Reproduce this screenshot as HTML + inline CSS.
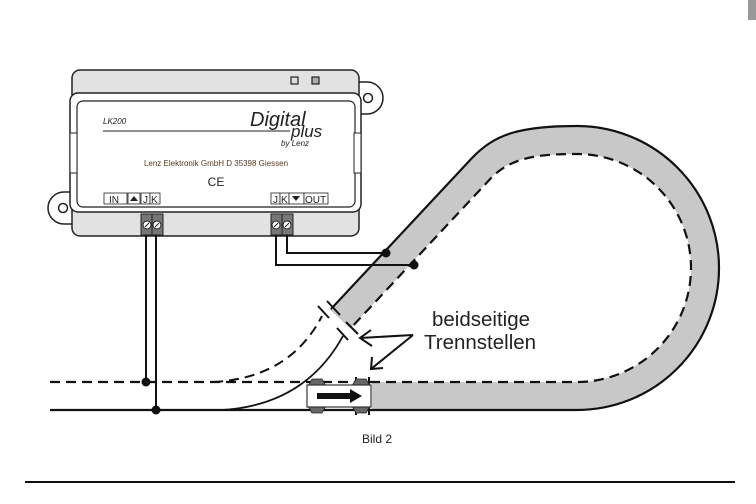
<!DOCTYPE html>
<html><head><meta charset="utf-8"><style>
html,body{margin:0;padding:0;background:#fff;}
svg{display:block;font-family:"Liberation Sans",sans-serif;}
</style></head><body>
<svg width="756" height="504" viewBox="0 0 756 504" xmlns="http://www.w3.org/2000/svg">
<rect x="748" y="0" width="8" height="20" fill="#999"/>
<!-- ears -->
<path d="M355 82 h12 a16 16 0 0 1 0 32 h-12 z" fill="#fff" stroke="#222" stroke-width="1.5"/>
<circle cx="368" cy="98" r="4.5" fill="#fff" stroke="#222" stroke-width="1.5"/>
<path d="M76 192 h-12 a16 16 0 0 0 0 32 h12 z" fill="#fff" stroke="#222" stroke-width="1.5"/>
<circle cx="63" cy="208" r="4.5" fill="#fff" stroke="#222" stroke-width="1.5"/>
<!-- box -->
<rect x="72" y="70" width="287" height="166" rx="8" fill="#e2e2e2" stroke="#222" stroke-width="1.5"/>
<rect x="70" y="93" width="291" height="119" rx="8" fill="#fff" stroke="#222" stroke-width="1.5"/>
<rect x="77" y="101" width="278" height="106" rx="6" fill="#fff" stroke="#222" stroke-width="1.2"/>
<rect x="70" y="133" width="7" height="40" fill="#fff" stroke="#222" stroke-width="1"/>
<rect x="354" y="133" width="7" height="40" fill="#fff" stroke="#222" stroke-width="1"/>
<rect x="291" y="77" width="7" height="7" fill="#ddd" stroke="#222" stroke-width="1.2"/>
<rect x="312" y="77" width="7" height="7" fill="#aaa" stroke="#222" stroke-width="1.2"/>
<text x="103" y="124" font-size="8" font-style="italic" fill="#222">LK200</text>
<line x1="103" y1="131" x2="290" y2="131" stroke="#222" stroke-width="1"/>
<text x="250" y="126" font-size="20" font-style="italic" fill="#222">Digital</text>
<text x="291" y="137" font-size="17" font-style="italic" fill="#222">plus</text>
<text x="281" y="146" font-size="8" font-style="italic" fill="#222">by Lenz</text>
<text x="216" y="166" font-size="8" text-anchor="middle" fill="#5a3a20">Lenz Elektronik GmbH  D 35398 Giessen</text>
<text x="216" y="186" font-size="12" text-anchor="middle" fill="#222">CE</text>
<g font-size="10" fill="#222" stroke-width="0.8">
<rect x="104" y="193" width="23" height="11" fill="#fff" stroke="#222"/><text x="109" y="203">IN</text>
<rect x="128" y="193" width="12" height="11" fill="#fff" stroke="#222"/><path d="M130 201 L134 196 L138 201 z" fill="#222"/>
<rect x="141" y="193" width="9" height="11" fill="#fff" stroke="#222"/><text x="143" y="203">J</text>
<rect x="150" y="193" width="10" height="11" fill="#fff" stroke="#222"/><text x="151" y="203">K</text>
<rect x="271" y="193" width="9" height="11" fill="#fff" stroke="#222"/><text x="273" y="203">J</text>
<rect x="280" y="193" width="9" height="11" fill="#fff" stroke="#222"/><text x="281" y="203">K</text>
<rect x="289" y="193" width="15" height="11" fill="#fff" stroke="#222"/><path d="M292 196 L296 201 L300 196 z" fill="#222"/>
<rect x="304" y="193" width="24" height="11" fill="#fff" stroke="#222"/><text x="305" y="203">OUT</text>
</g>
<!-- terminals -->
<g stroke="#222" stroke-width="1">
<rect x="141" y="214" width="22" height="21" fill="#777"/>
<line x1="152" y1="214" x2="152" y2="235"/>
<circle cx="147" cy="225" r="4" fill="#fff"/><circle cx="157" cy="225" r="4" fill="#fff"/>
<line x1="145" y1="227" x2="149" y2="223"/><line x1="155" y1="227" x2="159" y2="223"/>
<rect x="271" y="214" width="22" height="21" fill="#777"/>
<line x1="282" y1="214" x2="282" y2="235"/>
<circle cx="276" cy="225" r="4" fill="#fff"/><circle cx="287" cy="225" r="4" fill="#fff"/>
<line x1="274" y1="227" x2="278" y2="223"/><line x1="285" y1="227" x2="289" y2="223"/>
</g>
<!-- track loop band -->
<path d="M372 396 L577 396 A128 128 0 0 0 577 140 C528 140 503 146 482 167 L340 319" fill="none" stroke="#c8c8c8" stroke-width="28"/>
<path d="M50 410 L577 410 A142 142 0 0 0 577 126 C520 126 495 134 472 158 L331 309" fill="none" stroke="#111" stroke-width="2.2"/>
<path d="M50 382 L577 382 A114 114 0 0 0 577 154 C535 154 512 158 492 177 L350 329" fill="none" stroke="#111" stroke-width="2.2" stroke-dasharray="10,6"/>
<!-- turnout curves -->
<path d="M213 382 Q290 378 322 316" fill="none" stroke="#111" stroke-width="2" stroke-dasharray="10,6"/>
<path d="M222 410 Q305 405 343 336" fill="none" stroke="#111" stroke-width="1.8"/>
<!-- insulation ticks -->
<g stroke="#111" stroke-width="2">
<line x1="327" y1="301" x2="340" y2="315"/>
<line x1="318" y1="306" x2="329" y2="318"/>
<line x1="346" y1="322" x2="358" y2="334"/>
<line x1="337" y1="328" x2="348" y2="340"/>
<line x1="356" y1="377" x2="356" y2="415"/>
<line x1="369" y1="377" x2="369" y2="415"/>
</g>
<!-- car -->
<path d="M308 386 L312 379 L322 379 L326 386 z M352 386 L356 379 L366 379 L370 386 z M308 406 L312 413 L322 413 L326 406 z M352 406 L356 413 L366 413 L370 406 z" fill="#666" stroke="#222" stroke-width="0.8"/>
<rect x="307" y="385" width="64" height="22" fill="#fff" stroke="#333" stroke-width="1.2"/>
<path d="M317 393 L350 393 L350 389 L362 396 L350 403 L350 399 L317 399 z" fill="#111"/>
<!-- wires -->
<g stroke="#111" stroke-width="2" fill="none">
<line x1="146" y1="235" x2="146" y2="382"/>
<line x1="156" y1="235" x2="156" y2="410"/>
<polyline points="276,235 276,265 414,265"/>
<polyline points="287,235 287,253 386,253"/>
</g>
<g fill="#111">
<circle cx="146" cy="382" r="4.5"/><circle cx="156" cy="410" r="4.5"/>
<circle cx="386" cy="253" r="4.5"/><circle cx="414" cy="265" r="4.5"/>
</g>
<!-- labels -->
<text x="432" y="326" font-size="20.5" fill="#222">beidseitige</text>
<text x="424" y="349" font-size="20.5" fill="#222">Trennstellen</text>
<g stroke="#111" stroke-width="2" fill="none">
<line x1="413" y1="335" x2="360" y2="338"/>
<polyline points="371,330 360,338 372,346"/>
<line x1="413" y1="335" x2="371" y2="369"/>
<polyline points="372,357 371,369 383,368"/>
</g>
<text x="362" y="443" font-size="12" fill="#222">Bild 2</text>
<line x1="25" y1="482" x2="735" y2="482" stroke="#111" stroke-width="2"/>
</svg>
</body></html>
